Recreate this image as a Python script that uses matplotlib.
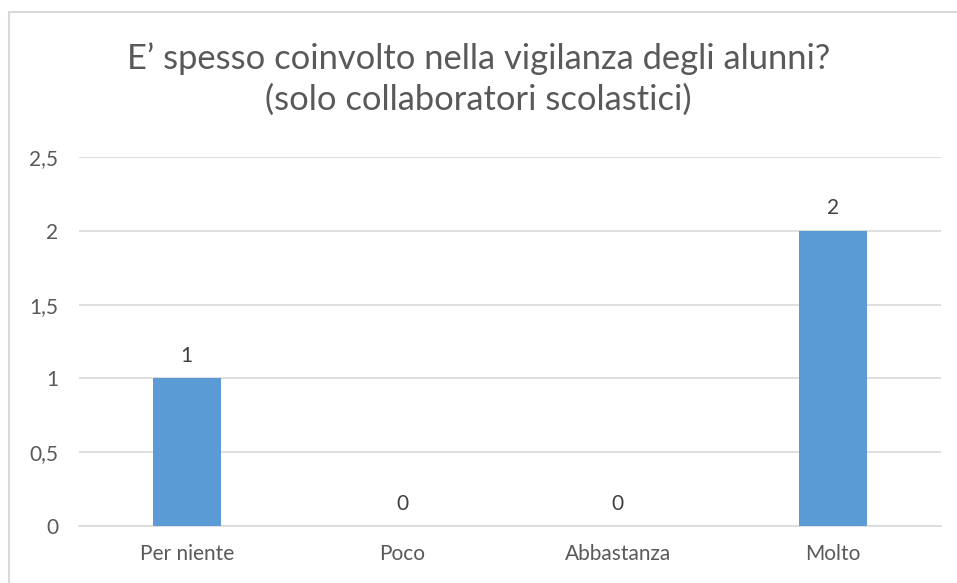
import matplotlib
matplotlib.use("Agg")
import matplotlib.pyplot as plt
from matplotlib.patches import Rectangle

categories = ["Per niente", "Poco", "Abbastanza", "Molto"]
values = [1, 0, 0, 2]
yticks = [0, 0.5, 1, 1.5, 2, 2.5]
ytick_labels = ["0", "0,5", "1", "1,5", "2", "2,5"]
title = "E\u2019 spesso coinvolto nella vigilanza degli alunni?\n(solo collaboratori scolastici)"

plt.rcParams['font.family'] = ['Lato', 'DejaVu Sans']

W, H = 957, 583
fig = plt.figure(figsize=(W / 100, H / 100), dpi=100)
fig.patch.set_facecolor("white")

# chart border (top & left visible)
fig.patches.append(Rectangle((9 / W, -0.1), 1.2, 1 - 12 / H + 0.1,
                             transform=fig.transFigure, fill=False,
                             edgecolor="#d9d9d9", linewidth=1.5))

left, right = 79 / W, 941 / W
bottom, top = 1 - 526 / H, 1 - 157 / H
ax = fig.add_axes([left, bottom, right - left, top - bottom])

x = list(range(len(categories)))
bars = ax.bar(x, values, width=0.315, color="#5b9bd5", zorder=3)
ax.set_xlim(-0.5, len(categories) - 0.5)
ax.set_ylim(0, 2.5)
ax.set_yticks(yticks)
ax.set_yticklabels(ytick_labels)
ax.set_xticks(x)
ax.set_xticklabels(categories)

ax.grid(axis="y", color="#d9d9d9", linewidth=1.2, zorder=0)
for s in ["top", "right", "left"]:
    ax.spines[s].set_visible(False)
ax.spines["bottom"].set_color("#d9d9d9")
ax.spines["bottom"].set_linewidth(1.2)
ax.tick_params(axis="both", length=0, colors="#595959", labelsize=15)
ax.tick_params(axis="y", pad=15)
ax.tick_params(axis="x", pad=13)

for xi, v in zip(x, values):
    ax.annotate(str(v), (xi, v), xytext=(0, 9), textcoords="offset points",
                ha="center", va="bottom", color="#404040", fontsize=15)

fig.text(0.5, 1 - 79 / H, title, ha="center", va="center", fontsize=24.8,
         color="#595959", linespacing=1.3)

fig.savefig("out.png", dpi=100, facecolor="white")
